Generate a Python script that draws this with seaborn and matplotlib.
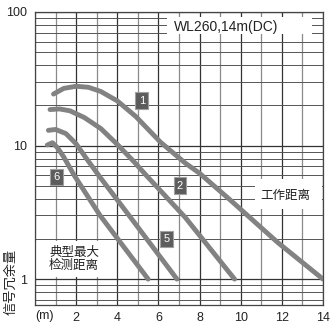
import matplotlib
matplotlib.use("Agg")
import matplotlib.pyplot as plt
import matplotlib.ticker as mticker
from matplotlib.patches import Rectangle
import seaborn as sns
import pandas as pd

# Signal margin vs. distance curves (WL260, 14 m, DC)
curve_ids = ["1", "2", "5", "6"]
dist_1 = [0.9, 1.4, 2.0, 2.6, 3.2, 4.0, 4.9, 6.1, 7.3, 8.0, 9.5, 11.8, 14.0]
margin_1 = [24.3, 26.8, 27.8, 27.3, 25.4, 21.6, 16.5, 10.6, 7.4, 6.2, 3.9, 1.88, 1.0]
dist_2 = [0.73, 1.2, 1.7, 2.4, 3.2, 4.0, 4.8, 5.4, 7.3, 9.7]
margin_2 = [18.6, 18.8, 18.2, 16.2, 13.4, 10.2, 7.6, 6.0, 2.9, 1.0]
dist_5 = [0.65, 1.0, 1.5, 2.0, 2.45, 3.16, 4.5, 6.9]
margin_5 = [13.0, 13.2, 12.3, 10.3, 8.2, 5.8, 3.1, 1.0]
dist_6 = [0.6, 0.85, 1.1, 1.4, 1.9, 3.16, 5.5]
margin_6 = [10.1, 10.5, 9.6, 8.2, 6.0, 3.0, 1.0]

x_ticks = [2, 4, 6, 8, 10, 12, 14]
y_ticks = [1, 10, 100]
title_text = "WL260,14m(DC)"
work_text = "工作距离"
max_text = "典型最大\n检测距离"
y_title = "信号冗余量"
x_unit = "(m)"

frames = []
for cid, xs, ys in [("1", dist_1, margin_1), ("2", dist_2, margin_2),
                    ("5", dist_5, margin_5), ("6", dist_6, margin_6)]:
    frames.append(pd.DataFrame({"dist": xs, "margin": ys, "curve": cid}))
df = pd.concat(frames, ignore_index=True)

sns.set_theme(style="white")
plt.rcParams["font.family"] = ["Liberation Sans", "Noto Sans CJK SC"]

fig = plt.figure(figsize=(3.32, 3.25), dpi=100)
ax = fig.add_axes([35 / 332, 1 - 305 / 325, 288 / 332, 293 / 325])

ax.set_yscale("log")
ax.set_xlim(0, 14)
ax.set_ylim(0.64, 100)

# grid: vertical every metre, horizontal on log minor ticks
ax.xaxis.set_major_locator(mticker.FixedLocator(x_ticks))
ax.xaxis.set_minor_locator(mticker.MultipleLocator(1))
ax.yaxis.set_major_locator(mticker.FixedLocator(y_ticks))
ax.yaxis.set_minor_locator(mticker.LogLocator(base=10, subs=range(2, 10)))
ax.yaxis.set_minor_formatter(mticker.NullFormatter())
ax.yaxis.set_major_formatter(mticker.FuncFormatter(lambda v, p: f"{v:g}"))
ax.grid(True, which="major", axis="both", color="#333333", lw=0.9)
ax.grid(True, which="minor", axis="x", color="#8a8a8a", lw=0.9)
ax.grid(True, which="minor", axis="y", color="#555555", lw=0.7)
ax.set_axisbelow(True)
ax.tick_params(which="both", length=0, labelsize=9, colors="#222222")
ax.tick_params(axis="x", pad=5)
ax.tick_params(axis="y", pad=6)
for s in ax.spines.values():
    s.set_color("#444444")
    s.set_linewidth(0.9)

# white label panels sitting over the grid
ax.add_patch(Rectangle((6.4, 68.6), 7.05, 91.8 - 68.6, facecolor="white",
                       edgecolor="none", zorder=1.5))
ax.add_patch(Rectangle((10.7, 3.37), 3.25, 5.6 - 3.37, facecolor="white",
                       edgecolor="none", zorder=1.5))
ax.add_patch(Rectangle((0.03, 1.03), 3.5, 1.93 - 1.03, facecolor="white",
                       edgecolor="none", zorder=1.5))

sns.lineplot(data=df, x="dist", y="margin", hue="curve", units="curve",
             estimator=None, sort=False, palette=["#828282"] * 4,
             lw=3.5, legend=False, ax=ax, zorder=3,
             solid_capstyle="round", solid_joinstyle="round")

ax.text(9.29, 77.3, title_text, ha="center", va="center", fontsize=10,
        color="#222222", zorder=4)
ax.text(12.15, 4.2, work_text, ha="center", va="center", fontsize=9,
        color="#222222", zorder=4)
ax.text(1.9, 1.4, max_text, ha="center", va="center", fontsize=9,
        color="#222222", linespacing=1.05, zorder=4)

# curve tags
tag_pos = {"1": (5.19, 21.7), "2": (7.05, 5.0), "5": (6.4, 2.0), "6": (1.05, 5.8)}
for cid in curve_ids:
    tx, ty = tag_pos[cid]
    ax.text(tx, ty, cid, ha="center", va="center", fontsize=8, color="white",
            zorder=5,
            bbox=dict(boxstyle="square,pad=0.3", facecolor="#5c5c5c",
                      edgecolor="#a0a0a0", lw=0.8))

ax.set_xlabel("")
ax.set_ylabel(y_title, fontsize=9.5, color="#222222", rotation=90)
ax.yaxis.set_label_coords(-0.06, 0.08)
fig.text(45 / 332, 1 - 316 / 325, x_unit, ha="center", va="center",
         fontsize=9, color="#222222")

fig.savefig("out.png", dpi=100, facecolor="white")
